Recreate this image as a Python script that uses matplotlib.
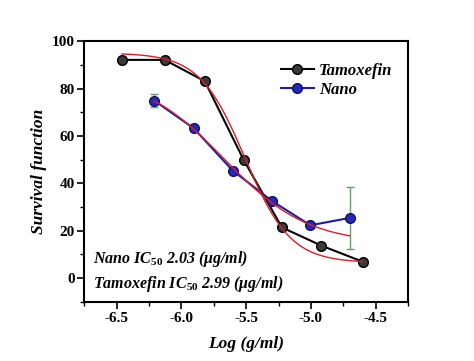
import matplotlib
matplotlib.use("Agg")
import matplotlib.pyplot as plt
import numpy as np

# values
tam_x = [-6.46, -6.13, -5.82, -5.52, -5.225, -4.92, -4.60]
tam_y = [92.1, 92.1, 83.1, 49.9, 21.4, 13.7, 6.9]

nano_x = [-6.21, -5.905, -5.605, -5.30, -5.005, -4.70]
nano_y = [74.9, 63.2, 45.4, 32.5, 22.3, 25.4]
nano_err = [2.6, 1.0, 1.0, 1.0, 1.0, 13.0]

# dose-response fit parameters (bottom, top, log x0, slope)
tam_fit = (6.5, 95.0, -5.51, 5.7)
nano_fit = (14.5, 86.0, -5.67, 3.11)

nano_ic50 = "2.03"
tam_ic50 = "2.99"


def dose_resp(xx, p):
    bottom, top, x0, k = p
    return bottom + (top - bottom) / (1 + np.exp(k * (xx - x0)))


plt.rcParams["font.family"] = ["Liberation Serif", "DejaVu Serif"]
plt.rcParams["font.weight"] = "bold"
plt.rcParams["axes.unicode_minus"] = False
plt.rcParams["mathtext.fontset"] = "custom"
plt.rcParams["mathtext.it"] = "Liberation Serif:italic:bold"
plt.rcParams["mathtext.rm"] = "Liberation Serif:bold"
plt.rcParams["mathtext.default"] = "it"

fig = plt.figure(figsize=(4.74, 3.61), dpi=100)
ax = fig.add_axes([0.178, 0.164, 0.683, 0.722])

xt = np.linspace(tam_x[0], tam_x[-1], 200)
xn = np.linspace(nano_x[0], nano_x[-1], 200)

ax.errorbar(nano_x, nano_y, yerr=nano_err, fmt="none", ecolor="#6f9a6f",
            elinewidth=1.0, capsize=3, capthick=1.0, zorder=2)
ax.plot(tam_x, tam_y, "-o", color="black", lw=1.5, ms=7,
        mfc="#3a3a3a", mec="black", mew=1.0, label="Tamoxefin", zorder=3)
ax.plot(nano_x, nano_y, "-o", color="#1c1ca0", lw=1.5, ms=7,
        mfc="#2626b8", mec="#10106a", mew=1.0, label="Nano", zorder=3)
ax.plot(xt, dose_resp(xt, tam_fit), color="#d4202a", lw=1.0, zorder=4)
ax.plot(xn, dose_resp(xn, nano_fit), color="#d4202a", lw=1.0, zorder=4)

ax.set_xlim(-6.75, -4.25)
ax.set_ylim(-10, 100)
ax.set_xticks([-6.5, -6.0, -5.5, -5.0, -4.5])
ax.set_xticks(np.arange(-6.75, -4.2, 0.25), minor=True)
ax.set_yticks([0, 20, 40, 60, 80, 100])
ax.set_yticks(np.arange(-10, 101, 10), minor=True)
ax.tick_params(which="major", direction="out", length=5, width=1.2, labelsize=11, pad=2)
ax.tick_params(which="minor", direction="out", length=3, width=1.0)
for sp in ax.spines.values():
    sp.set_linewidth(1.5)

ax.set_xlabel("Log (g/ml)", fontsize=12.5, fontweight="bold", fontstyle="italic", labelpad=8)
ax.set_ylabel("Survival function", fontsize=12.5, fontweight="bold", fontstyle="italic", labelpad=3)

ax.text(-6.685, 8.0, "Nano IC$_{50}$ " + nano_ic50 + " (\u03bcg/ml)", fontsize=11.5,
        fontweight="bold", fontstyle="italic", va="center")
ax.text(-6.685, -2.5, "Tamoxefin IC$_{50}$ " + tam_ic50 + " (\u03bcg/ml)", fontsize=11.5,
        fontweight="bold", fontstyle="italic", va="center")

leg = ax.legend(loc="upper left", bbox_to_anchor=(0.56, 0.975), frameon=False,
                prop={"size": 12, "weight": "bold", "style": "italic"},
                handlelength=2.0, handletextpad=0.3, labelspacing=0.2)

fig.savefig("out.png", dpi=100)
